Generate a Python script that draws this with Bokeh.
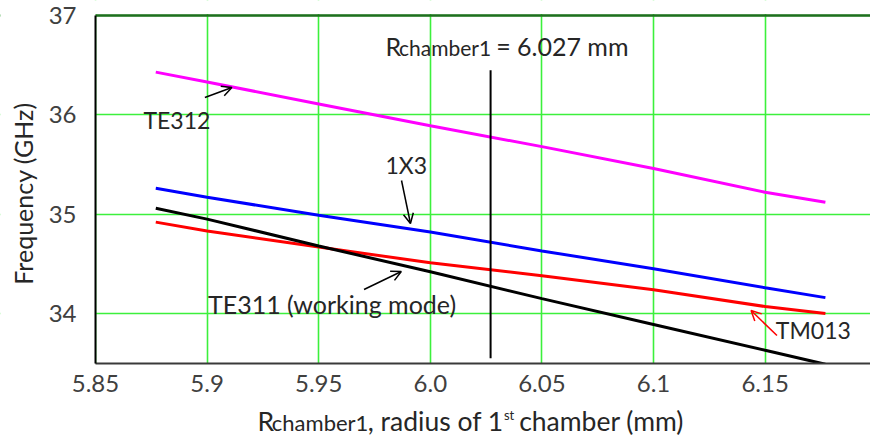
from bokeh.plotting import figure
from bokeh.models import Label, Arrow, OpenHead, Span, FixedTicker, Range1d, BoxAnnotation
from bokeh.embed import file_html
from bokeh.resources import INLINE
import math

# ---- data ----
radius = [5.877, 5.9, 5.95, 6.0, 6.05, 6.1, 6.15, 6.177]
te312 = [36.43, 36.33, 36.11, 35.89, 35.68, 35.46, 35.22, 35.12]
mode_1x3 = [35.26, 35.17, 34.99, 34.82, 34.63, 34.45, 34.26, 34.16]
tm013 = [34.92, 34.83, 34.67, 34.51, 34.38, 34.24, 34.07, 34.00]
te311 = [35.06, 34.95, 34.68, 34.42, 34.15, 33.89, 33.63, 33.49]

r_chamber1 = 6.027
marker_span = [33.55, 36.45]

x_ticks = [5.85, 5.9, 5.95, 6.0, 6.05, 6.1, 6.15]
x_tick_labels = ["5.85", "5.9", "5.95", "6.0", "6.05", "6.1", "6.15"]
y_ticks = [34, 35, 36, 37]
y_tick_labels = ["34", "35", "36", "37"]
x_min, x_max = 5.85, 6.1972
y_min, y_max = 33.497, 37.0

FONT = "Lato"
BIG = "25px"
SMALL = "21px"
TXT = "#262626"

# The frame covers the whole canvas so that the axis titles can be drawn with
# mixed font sizes; the axes sit at fixed locations (x_min / y_min).
p = figure(width=870, height=436,
           x_range=Range1d(5.80744, x_max), y_range=Range1d(32.762, 37.151),
           output_backend="svg", toolbar_location=None,
           min_border_left=0, min_border_right=0,
           min_border_top=0, min_border_bottom=0)
p.outline_line_color = None
p.background_fill_color = "white"

# grid
p.xaxis.ticker = FixedTicker(ticks=x_ticks)
p.yaxis.ticker = FixedTicker(ticks=y_ticks)
p.xaxis.major_label_overrides = dict(zip(x_ticks, x_tick_labels))
p.yaxis.major_label_overrides = dict(zip(y_ticks, y_tick_labels))
p.grid.grid_line_color = "#3cf03c"
p.grid.grid_line_width = 1.6

# top border line (drawn under the white masks)
p.add_layout(Span(location=y_max, dimension="width", line_color="#1f6e1f",
                  line_width=2.5, level="underlay"))

# axes
p.xaxis.fixed_location = y_min
p.yaxis.fixed_location = x_min
p.xaxis.bounds = (x_min, x_max)
p.yaxis.bounds = (y_min, y_max)
p.xaxis.axis_line_color = "#3a3a3a"
p.xaxis.axis_line_width = 2
p.yaxis.axis_line_color = "black"
p.yaxis.axis_line_width = 2
p.axis.major_tick_line_color = None
p.axis.minor_tick_line_color = None
p.axis.major_label_text_font = FONT
p.axis.major_label_text_font_size = "24px"
p.axis.major_label_text_color = "#404040"
p.xaxis.major_label_standoff = 6
p.yaxis.major_label_standoff = 13

# white masks outside the plotting area
for kw in (dict(top=y_min), dict(right=x_min), dict(bottom=y_max + 0.015)):
    p.add_layout(BoxAnnotation(fill_color="white", fill_alpha=1.0,
                               line_color=None, level="glyph", **kw))

# curves
p.line(radius, te312, line_color="#ff00ff", line_width=3)
p.line(radius, mode_1x3, line_color="#0000ff", line_width=3)
p.line(radius, tm013, line_color="#ff0000", line_width=3)
p.line(radius, te311, line_color="black", line_width=3)

# vertical marker
p.segment(x0=[r_chamber1], y0=[marker_span[0]], x1=[r_chamber1], y1=[marker_span[1]],
          line_color="black", line_width=2)


def lab(x, y, text, size=BIG, **kw):
    p.add_layout(Label(x=x, y=y, text=text, text_font=FONT, text_font_size=size,
                       text_color=TXT, text_align=kw.pop("align", "left"),
                       text_baseline=kw.pop("baseline", "alphabetic"), **kw))


def arrow(x0, y0, x1, y1, color="black"):
    p.add_layout(Arrow(end=OpenHead(size=10, line_width=1.5, line_color=color),
                       x_start=x0, y_start=y0, x_end=x1, y_end=y1,
                       line_width=1.5, line_color=color))


# title "Rchamber1 = 6.027 mm"
lab(5.9799, 36.690, "R")
lab(5.9860, 36.675, "chamber1", SMALL)
lab(6.0295, 36.690, "= 6.027 mm")

# mode labels
lab(5.8715, 35.948, "TE312", "23px")
arrow(5.899, 36.174, 5.9111, 36.275)
lab(5.9799, 35.495, "1X3", "23px")
arrow(5.9871, 35.339, 5.9911, 34.906)
lab(5.9004, 34.093, "TE311 (working mode)")
arrow(5.9703, 34.242, 5.987, 34.423)
lab(6.1548, 33.834, "TM013", "23px")
arrow(6.1553, 33.778, 6.1437, 34.030, color="#ff0000")

# axis titles
lab(5.8177, 35.208, "Frequency (GHz)", align="center", baseline="middle", angle=math.pi / 2)
lab(5.9226, 32.921, "R", "26.5px")
lab(5.9290, 32.904, "chamber1", "22px")
lab(5.9720, 32.921, ", radius of 1", "26.5px")
lab(6.0330, 32.975, "st", "13px")
lab(6.0398, 32.921, "chamber (mm)", "26.5px")

open("out.html", "w").write(file_html(p, INLINE))
